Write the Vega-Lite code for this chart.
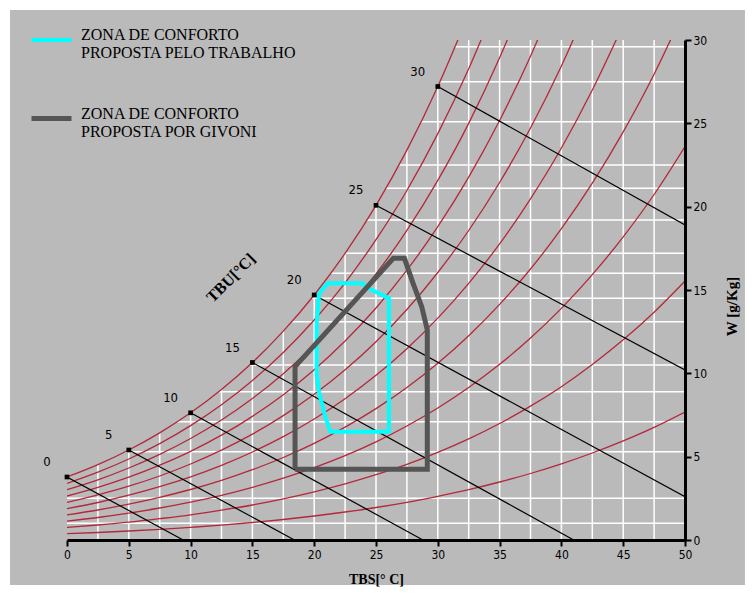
{
  "$schema": "https://vega.github.io/schema/vega-lite/v6.json",
  "width": 618,
  "height": 500,
  "autosize": {"type": "none"},
  "padding": {"left": 67, "top": 40, "right": 70, "bottom": 57},
  "background": "white",
  "config": {"view": {"stroke": null}},
  "datasets": {
    "rh": [
      {"rh":100,"t":0,"w":3.78},{"rh":100,"t":2.5,"w":4.52},{"rh":100,"t":5,"w":5.40},{"rh":100,"t":7.5,"w":6.43},{"rh":100,"t":10,"w":7.63},{"rh":100,"t":12.5,"w":9.03},{"rh":100,"t":15,"w":10.65},{"rh":100,"t":17.5,"w":12.53},{"rh":100,"t":20,"w":14.70},{"rh":100,"t":22.5,"w":17.20},{"rh":100,"t":25,"w":20.08},{"rh":100,"t":27.5,"w":23.39},{"rh":100,"t":30,"w":27.21},{"rh":100,"t":32.5,"w":31.57},
      {"rh":90,"t":0,"w":3.40},{"rh":90,"t":2.5,"w":4.07},{"rh":90,"t":5,"w":4.86},{"rh":90,"t":7.5,"w":5.78},{"rh":90,"t":10,"w":6.86},{"rh":90,"t":12.5,"w":8.11},{"rh":90,"t":15,"w":9.57},{"rh":90,"t":17.5,"w":11.25},{"rh":90,"t":20,"w":13.20},{"rh":90,"t":22.5,"w":15.43},{"rh":90,"t":25,"w":18.02},{"rh":90,"t":27.5,"w":20.97},{"rh":90,"t":30,"w":24.38},{"rh":90,"t":32.5,"w":28.27},{"rh":90,"t":35,"w":32.73},
      {"rh":80,"t":0,"w":3.02},{"rh":80,"t":2.5,"w":3.61},{"rh":80,"t":5,"w":4.32},{"rh":80,"t":7.5,"w":5.14},{"rh":80,"t":10,"w":6.09},{"rh":80,"t":12.5,"w":7.20},{"rh":80,"t":15,"w":8.49},{"rh":80,"t":17.5,"w":9.98},{"rh":80,"t":20,"w":11.70},{"rh":80,"t":22.5,"w":13.68},{"rh":80,"t":25,"w":15.96},{"rh":80,"t":27.5,"w":18.58},{"rh":80,"t":30,"w":21.58},{"rh":80,"t":32.5,"w":25.00},{"rh":80,"t":35,"w":28.93},{"rh":80,"t":37.5,"w":33.40},
      {"rh":70,"t":0,"w":2.64},{"rh":70,"t":2.5,"w":3.16},{"rh":70,"t":5,"w":3.77},{"rh":70,"t":7.5,"w":4.49},{"rh":70,"t":10,"w":5.32},{"rh":70,"t":12.5,"w":6.29},{"rh":70,"t":15,"w":7.42},{"rh":70,"t":17.5,"w":8.72},{"rh":70,"t":20,"w":10.22},{"rh":70,"t":22.5,"w":11.94},{"rh":70,"t":25,"w":13.92},{"rh":70,"t":27.5,"w":16.19},{"rh":70,"t":30,"w":18.80},{"rh":70,"t":32.5,"w":21.77},{"rh":70,"t":35,"w":25.17},{"rh":70,"t":37.5,"w":29.03},{"rh":70,"t":40,"w":33.44},
      {"rh":60,"t":0,"w":2.26},{"rh":60,"t":2.5,"w":2.71},{"rh":60,"t":5,"w":3.23},{"rh":60,"t":7.5,"w":3.84},{"rh":60,"t":10,"w":4.56},{"rh":60,"t":12.5,"w":5.39},{"rh":60,"t":15,"w":6.35},{"rh":60,"t":17.5,"w":7.46},{"rh":60,"t":20,"w":8.74},{"rh":60,"t":22.5,"w":10.21},{"rh":60,"t":25,"w":11.90},{"rh":60,"t":27.5,"w":13.83},{"rh":60,"t":30,"w":16.05},{"rh":60,"t":32.5,"w":18.57},{"rh":60,"t":35,"w":21.45},{"rh":60,"t":37.5,"w":24.72},{"rh":60,"t":40,"w":28.44},{"rh":60,"t":42.5,"w":32.68},
      {"rh":50,"t":0,"w":1.88},{"rh":50,"t":2.5,"w":2.25},{"rh":50,"t":5,"w":2.69},{"rh":50,"t":7.5,"w":3.20},{"rh":50,"t":10,"w":3.79},{"rh":50,"t":12.5,"w":4.48},{"rh":50,"t":15,"w":5.28},{"rh":50,"t":17.5,"w":6.20},{"rh":50,"t":20,"w":7.26},{"rh":50,"t":22.5,"w":8.48},{"rh":50,"t":25,"w":9.88},{"rh":50,"t":27.5,"w":11.48},{"rh":50,"t":30,"w":13.31},{"rh":50,"t":32.5,"w":15.40},{"rh":50,"t":35,"w":17.77},{"rh":50,"t":37.5,"w":20.47},{"rh":50,"t":40,"w":23.52},{"rh":50,"t":42.5,"w":27.00},{"rh":50,"t":45,"w":30.91},
      {"rh":40,"t":0,"w":1.51},{"rh":40,"t":2.5,"w":1.80},{"rh":40,"t":5,"w":2.15},{"rh":40,"t":7.5,"w":2.56},{"rh":40,"t":10,"w":3.03},{"rh":40,"t":12.5,"w":3.58},{"rh":40,"t":15,"w":4.22},{"rh":40,"t":17.5,"w":4.95},{"rh":40,"t":20,"w":5.80},{"rh":40,"t":22.5,"w":6.77},{"rh":40,"t":25,"w":7.88},{"rh":40,"t":27.5,"w":9.15},{"rh":40,"t":30,"w":10.61},{"rh":40,"t":32.5,"w":12.26},{"rh":40,"t":35,"w":14.14},{"rh":40,"t":37.5,"w":16.26},{"rh":40,"t":40,"w":18.68},{"rh":40,"t":42.5,"w":21.41},{"rh":40,"t":45,"w":24.49},{"rh":40,"t":47.5,"w":27.95},{"rh":40,"t":50,"w":31.88},
      {"rh":30,"t":0,"w":1.13},{"rh":30,"t":2.5,"w":1.35},{"rh":30,"t":5,"w":1.61},{"rh":30,"t":7.5,"w":1.92},{"rh":30,"t":10,"w":2.27},{"rh":30,"t":12.5,"w":2.68},{"rh":30,"t":15,"w":3.16},{"rh":30,"t":17.5,"w":3.71},{"rh":30,"t":20,"w":4.34},{"rh":30,"t":22.5,"w":5.06},{"rh":30,"t":25,"w":5.89},{"rh":30,"t":27.5,"w":6.84},{"rh":30,"t":30,"w":7.92},{"rh":30,"t":32.5,"w":9.15},{"rh":30,"t":35,"w":10.54},{"rh":30,"t":37.5,"w":12.12},{"rh":30,"t":40,"w":13.90},{"rh":30,"t":42.5,"w":15.92},{"rh":30,"t":45,"w":18.19},{"rh":30,"t":47.5,"w":20.73},{"rh":30,"t":50,"w":23.61},
      {"rh":20,"t":0,"w":0.75},{"rh":20,"t":2.5,"w":0.90},{"rh":20,"t":5,"w":1.07},{"rh":20,"t":7.5,"w":1.28},{"rh":20,"t":10,"w":1.51},{"rh":20,"t":12.5,"w":1.79},{"rh":20,"t":15,"w":2.10},{"rh":20,"t":17.5,"w":2.47},{"rh":20,"t":20,"w":2.89},{"rh":20,"t":22.5,"w":3.37},{"rh":20,"t":25,"w":3.92},{"rh":20,"t":27.5,"w":4.54},{"rh":20,"t":30,"w":5.26},{"rh":20,"t":32.5,"w":6.07},{"rh":20,"t":35,"w":6.99},{"rh":20,"t":37.5,"w":8.03},{"rh":20,"t":40,"w":9.20},{"rh":20,"t":42.5,"w":10.53},{"rh":20,"t":45,"w":12.01},{"rh":20,"t":47.5,"w":13.67},{"rh":20,"t":50,"w":15.54},
      {"rh":10,"t":0,"w":0.38},{"rh":10,"t":2.5,"w":0.45},{"rh":10,"t":5,"w":0.54},{"rh":10,"t":7.5,"w":0.64},{"rh":10,"t":10,"w":0.76},{"rh":10,"t":12.5,"w":0.89},{"rh":10,"t":15,"w":1.05},{"rh":10,"t":17.5,"w":1.23},{"rh":10,"t":20,"w":1.44},{"rh":10,"t":22.5,"w":1.68},{"rh":10,"t":25,"w":1.95},{"rh":10,"t":27.5,"w":2.26},{"rh":10,"t":30,"w":2.62},{"rh":10,"t":32.5,"w":3.02},{"rh":10,"t":35,"w":3.48},{"rh":10,"t":37.5,"w":3.99},{"rh":10,"t":40,"w":4.57},{"rh":10,"t":42.5,"w":5.22},{"rh":10,"t":45,"w":5.95},{"rh":10,"t":47.5,"w":6.76},{"rh":10,"t":50,"w":7.68}
    ],
    "wb": [
      {"twb":0,"i":0,"t":0,"w":3.78},{"twb":0,"i":1,"t":9.4,"w":0},
      {"twb":5,"i":0,"t":5,"w":5.40},{"twb":5,"i":1,"t":18.4,"w":0},
      {"twb":10,"i":0,"t":10,"w":7.63},{"twb":10,"i":1,"t":28.8,"w":0},
      {"twb":15,"i":0,"t":15,"w":10.65},{"twb":15,"i":1,"t":41.0,"w":0},
      {"twb":20,"i":0,"t":20,"w":14.70},{"twb":20,"i":1,"t":50,"w":2.6},
      {"twb":25,"i":0,"t":25,"w":20.08},{"twb":25,"i":1,"t":50,"w":10.2},
      {"twb":30,"i":0,"t":30,"w":27.21},{"twb":30,"i":1,"t":50,"w":18.9}
    ],
    "zones": [
      {"zona":"T","i":0,"t":20.4,"w":14.8},{"zona":"T","i":1,"t":21.1,"w":15.4},{"zona":"T","i":2,"t":23.9,"w":15.4},{"zona":"T","i":3,"t":24.4,"w":15.1},{"zona":"T","i":4,"t":26.05,"w":14.5},{"zona":"T","i":5,"t":26.05,"w":6.5},{"zona":"T","i":6,"t":21.3,"w":6.5},{"zona":"T","i":7,"t":20.9,"w":7.4},{"zona":"T","i":8,"t":20.4,"w":8.8},{"zona":"T","i":9,"t":20.2,"w":10.0},{"zona":"T","i":10,"t":20.2,"w":13.0},{"zona":"T","i":11,"t":20.4,"w":14.8},
      {"zona":"G","i":0,"t":18.45,"w":4.25},{"zona":"G","i":1,"t":18.45,"w":10.4},{"zona":"G","i":2,"t":26.4,"w":16.9},{"zona":"G","i":3,"t":27.3,"w":16.9},{"zona":"G","i":4,"t":28.0,"w":15.4},{"zona":"G","i":5,"t":28.7,"w":14.0},{"zona":"G","i":6,"t":29.15,"w":12.6},{"zona":"G","i":7,"t":29.15,"w":4.25},{"zona":"G","i":8,"t":18.45,"w":4.25}
    ],
    "gx": [{"g":2.5},{"g":5},{"g":7.5},{"g":10},{"g":12.5},{"g":15},{"g":17.5},{"g":20},{"g":22.5},{"g":25},{"g":27.5},{"g":30},{"g":32.5},{"g":35},{"g":37.5},{"g":40},{"g":42.5},{"g":45},{"g":47.5}],
    "gy": [{"g":1},{"g":2.5},{"g":5.3},{"g":7.1},{"g":8.9},{"g":10.5},{"g":13.1},{"g":14.5},{"g":16},{"g":17.2},{"g":19.2},{"g":21.1},{"g":22.5},{"g":25.1},{"g":27.5},{"g":29.6}]
  },
  "layer": [
    {
      "data": {"values": [{}]},
      "mark": {"type": "rect", "color": "#bababa", "clip": false},
      "encoding": {
        "x": {
          "datum": -4.61, "type": "quantitative", "scale": {"domain": [0, 50], "nice": false, "zero": false},
          "axis": {
            "orient": "bottom", "zindex": 2, "values": [0,5,10,15,20,25,30,35,40,45,50], "grid": false, "labelFlush": false,
            "title": "TBS[° C]", "titleFont": "Liberation Serif", "titleFontSize": 14, "titleFontWeight": "bold", "titleColor": "black", "titlePadding": 12,
            "domainColor": "black", "domainWidth": 3, "tickColor": "black", "tickWidth": 2, "tickSize": 6,
            "labelFont": "'Liberation Sans Narrow', 'DejaVu Sans Condensed', 'Roboto Condensed', sans-serif", "labelFontSize": 12, "labelColor": "black", "labelPadding": 3
          }
        },
        "x2": {"datum": 54.85},
        "y": {
          "datum": -2.7, "type": "quantitative", "scale": {"domain": [0, 30], "nice": false, "zero": false},
          "axis": {
            "orient": "right", "zindex": 2, "values": [0,5,10,15,20,25,30], "grid": false, "labelFlush": false,
            "title": "W [g/Kg]", "titleFont": "Liberation Serif", "titleFontSize": 15, "titleFontWeight": "bold", "titleColor": "black",
            "titleAngle": 270, "titleX": 46, "titleY": 266, "titleAlign": "center", "titleBaseline": "middle",
            "domainColor": "black", "domainWidth": 3, "tickColor": "black", "tickWidth": 2, "tickSize": 6,
            "labelFont": "'Liberation Sans Narrow', 'DejaVu Sans Condensed', 'Roboto Condensed', sans-serif", "labelFontSize": 12, "labelColor": "black", "labelPadding": 2
          }
        },
        "y2": {"datum": 31.8}
      }
    },
    {
      "data": {"name": "gx"},
      "mark": {"type": "rule", "color": "white", "strokeWidth": 1.5},
      "encoding": {"x": {"field": "g", "type": "quantitative"}}
    },
    {
      "data": {"name": "gy"},
      "mark": {"type": "rule", "color": "white", "strokeWidth": 1.5},
      "encoding": {"y": {"field": "g", "type": "quantitative"}}
    },
    {
      "data": {"name": "rh"},
      "transform": [{"filter": "datum.rh == 100"}],
      "mark": {"type": "area", "color": "#bababa", "interpolate": "monotone", "clip": true},
      "encoding": {
        "x": {"field": "t", "type": "quantitative"},
        "y": {"field": "w", "type": "quantitative"},
        "y2": {"datum": 30}
      }
    },
    {
      "data": {"name": "rh"},
      "mark": {"type": "line", "color": "#b3283a", "strokeWidth": 1.3, "interpolate": "monotone", "clip": true},
      "encoding": {
        "detail": {"field": "rh", "type": "nominal"},
        "x": {"field": "t", "type": "quantitative"},
        "y": {"field": "w", "type": "quantitative"}
      }
    },
    {
      "data": {"name": "wb"},
      "mark": {"type": "line", "color": "black", "strokeWidth": 1.2, "clip": true},
      "encoding": {
        "detail": {"field": "twb", "type": "nominal"},
        "order": {"field": "i", "type": "quantitative"},
        "x": {"field": "t", "type": "quantitative"},
        "y": {"field": "w", "type": "quantitative"}
      }
    },
    {
      "data": {"name": "wb"},
      "transform": [{"filter": "datum.i == 0"}],
      "mark": {"type": "point", "shape": "square", "filled": true, "color": "black", "size": 22, "opacity": 1},
      "encoding": {
        "x": {"field": "t", "type": "quantitative"},
        "y": {"field": "w", "type": "quantitative"}
      }
    },
    {
      "data": {"name": "wb"},
      "transform": [{"filter": "datum.i == 0"}],
      "mark": {"type": "text", "dx": -20, "dy": -15, "font": "'Liberation Sans Narrow', 'DejaVu Sans Condensed', 'Roboto Condensed', sans-serif", "fontSize": 13, "color": "black", "align": "center", "baseline": "middle"},
      "encoding": {
        "x": {"field": "t", "type": "quantitative"},
        "y": {"field": "w", "type": "quantitative"},
        "text": {"field": "twb", "type": "nominal"}
      }
    },
    {
      "data": {"name": "zones"},
      "mark": {"type": "line", "strokeJoin": "miter", "clip": true},
      "encoding": {
        "x": {"field": "t", "type": "quantitative"},
        "y": {"field": "w", "type": "quantitative"},
        "order": {"field": "i", "type": "quantitative"},
        "color": {
          "field": "zona", "type": "nominal",
          "scale": {"domain": ["T", "G"], "range": ["#00ffff", "#555555"]},
          "legend": {
            "orient": "none", "legendX": -38, "legendY": -22, "title": null, "direction": "vertical",
            "symbolType": "stroke", "symbolSize": 1600, "symbolStrokeWidth": 4.5,
            "labelFont": "Liberation Serif", "labelFontSize": 16, "labelColor": "black", "labelLimit": 400, "labelOffset": 7,
            "labelBaseline": "alphabetic",
            "rowPadding": 35,
            "labelExpr": "datum.value == 'T' ? ['ZONA DE CONFORTO', 'PROPOSTA PELO TRABALHO'] : ['ZONA DE CONFORTO', 'PROPOSTA POR GIVONI']"
          }
        },
        "strokeWidth": {"field": "zona", "type": "ordinal", "scale": {"domain": ["T", "G"], "range": [4, 5]}, "legend": null}
      }
    },
    {
      "data": {"values": [{}]},
      "mark": {"type": "text", "text": "TBU[°C]", "angle": 315, "font": "Liberation Serif", "fontSize": 16, "fontWeight": "bold", "color": "black", "align": "center", "baseline": "middle"},
      "encoding": {
        "x": {"datum": 13.27, "type": "quantitative"},
        "y": {"datum": 15.72, "type": "quantitative"}
      }
    }
  ]
}
